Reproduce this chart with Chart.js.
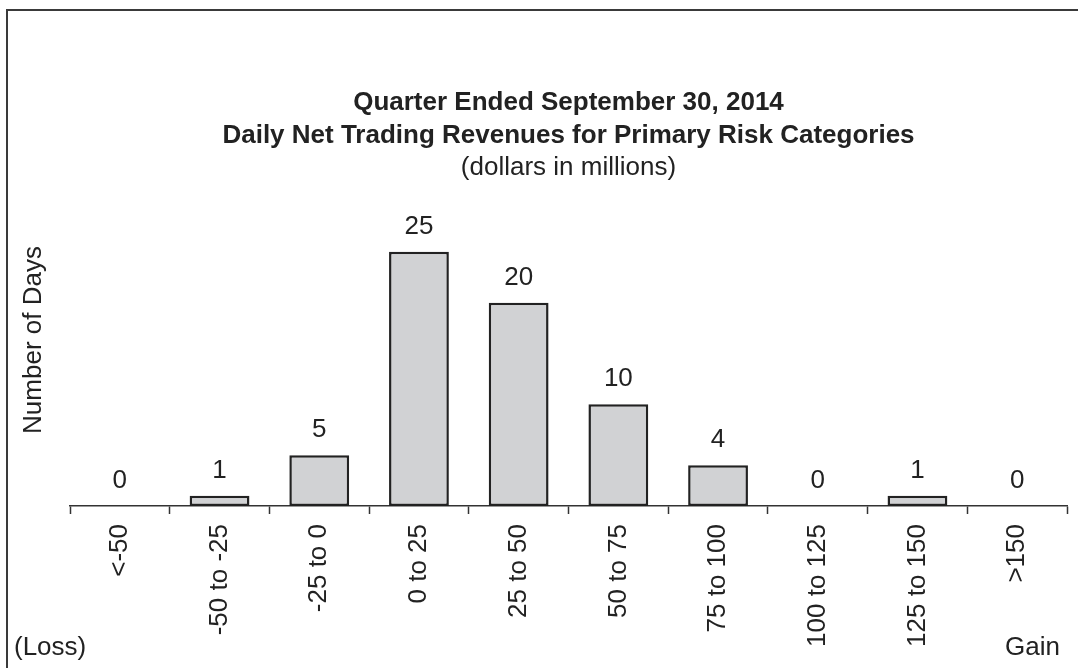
<!DOCTYPE html>
<html>
<head>
<meta charset="utf-8">
<script src="https://cdn.jsdelivr.net/npm/chart.js"></script>
<style>
  html, body { margin: 0; padding: 0; background: #fff; }
  #wrap { width: 1078px; height: 668px; position: relative; }
</style>
</head>
<body>
<div id="wrap"><canvas id="revChart"></canvas></div>
<script>
// ranges of daily net trading revenue (dollars in millions)
const categories = ['<-50', '-50 to -25', '-25 to 0', '0 to 25', '25 to 50',
                    '50 to 75', '75 to 100', '100 to 125', '125 to 150', '>150'];
const days = [0, 1, 5, 25, 20, 10, 4, 0, 1, 0];

const titleLines = ['Quarter Ended September 30, 2014',
                    'Daily Net Trading Revenues for Primary Risk Categories'];
const subtitleText = '(dollars in millions)';

const FONT = '"Liberation Sans", Arial, sans-serif';

// frame, axis title and the Loss / Gain notes
const decorations = {
    id: 'decorations',
    beforeDraw(chart) {
        const ctx = chart.ctx;
        ctx.save();
        ctx.strokeStyle = '#3a3a3a';
        ctx.lineWidth = 2;
        ctx.beginPath();
        ctx.moveTo(7, 668);
        ctx.lineTo(7, 10);
        ctx.lineTo(1078, 10);
        ctx.stroke();
        ctx.restore();
    },
    afterDraw(chart) {
        const ctx = chart.ctx;
        ctx.save();
        ctx.fillStyle = '#222';
        ctx.font = '26px ' + FONT;
        ctx.textBaseline = 'middle';

        ctx.save();
        ctx.translate(34, 340);
        ctx.rotate(-Math.PI / 2);
        ctx.textAlign = 'center';
        ctx.fillText('Number of Days', 0, 0);
        ctx.restore();

        ctx.textAlign = 'left';
        ctx.fillText('(Loss)', 14, 648);
        ctx.textAlign = 'right';
        ctx.fillText('Gain', 1060, 648);
        ctx.restore();
    }
};

// value printed above every bar
const barValues = {
    id: 'barValues',
    afterDatasetsDraw(chart) {
        const ctx = chart.ctx;
        const meta = chart.getDatasetMeta(0);
        ctx.save();
        ctx.fillStyle = '#222';
        ctx.font = '26px ' + FONT;
        ctx.textAlign = 'center';
        ctx.textBaseline = 'alphabetic';
        meta.data.forEach((bar, i) => {
            ctx.fillText(String(days[i]), bar.x, bar.y - 18);
        });
        ctx.restore();
    }
};

const ctx = document.getElementById('revChart').getContext('2d');
const revChart = new Chart(ctx, {
    type: 'bar',
    data: {
        labels: categories,
        datasets: [{
            data: days,
            backgroundColor: '#d1d2d4',
            borderColor: '#222',
            borderWidth: 2.5,
            borderSkipped: false,
            categoryPercentage: 0.6,
            barPercentage: 1.0
        }]
    },
    options: {
        responsive: true,
        maintainAspectRatio: false,
        animation: false,
        layout: { padding: { left: 70, right: 11, top: 0, bottom: 0 } },
        plugins: {
            legend: { display: false },
            tooltip: { enabled: false },
            title: {
                display: true,
                text: titleLines,
                color: '#222',
                font: { family: FONT, size: 26, weight: 'bold', lineHeight: 1.27 },
                padding: { top: 86, bottom: 0 }
            },
            subtitle: {
                display: true,
                text: subtitleText,
                color: '#222',
                font: { family: FONT, size: 26, weight: 'normal', lineHeight: 1.23 },
                padding: { top: 0, bottom: 17 }
            }
        },
        scales: {
            x: {
                grid: {
                    offset: true,
                    drawOnChartArea: false,
                    drawTicks: true,
                    tickLength: 8,
                    tickWidth: 1.5,
                    tickColor: '#333'
                },
                border: { display: true, color: '#333', width: 1.5 },
                ticks: {
                    color: '#222',
                    font: { family: FONT, size: 26 },
                    minRotation: 90,
                    maxRotation: 90,
                    padding: 10,
                    autoSkip: false
                },
                afterFit(scale) { scale.height = 162; }
            },
            y: {
                display: false,
                min: 0,
                max: 30
            }
        }
    },
    plugins: [decorations, barValues]
});
</script>
</body>
</html>
